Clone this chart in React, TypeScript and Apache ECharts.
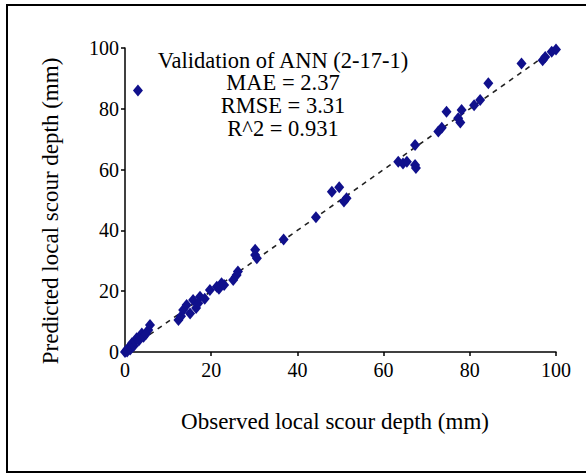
import React, { useEffect, useRef } from "react";
import * as echarts from "echarts";

const observed: number[] = [
  0, 0.3, 0.6, 0.5, 1, 1.2, 1.6, 2, 2.3, 2.7, 3.2, 3.9, 4.3, 5.4, 5.8, 4.8,
  12.4, 13, 13.5, 14.3, 15.1, 15.8, 16.5, 17.4, 17, 18.5, 19.7, 21.3, 22.4, 21.8, 23,
  25.1, 25.9, 26.2, 30.2, 30.6, 30.2, 36.8, 44.3, 48, 49.7, 51.4, 50.8,
  63.4, 64.5, 65.4, 67.3, 67.3, 67.5, 72.7, 73.5, 74.6, 77.3, 78.1, 77.8, 81, 82.4, 84.3,
  92, 96.9, 97.5, 99, 100, 3,
];
const predicted: number[] = [
  0, 0.5, 1, 0.2, 1.5, 0.8, 2.9, 2, 3.5, 4.5, 3.8, 6.1, 5, 7.2, 8.9, 5.8,
  10.5, 11.8, 13.8, 15.5, 12.7, 17.1, 14.5, 18.2, 16, 17.5, 20.4, 21.5, 22.6, 20.8, 22,
  23.7, 25.3, 26.5, 31.9, 30.8, 33.6, 37, 44.3, 52.7, 54.2, 50.6, 49.5,
  62.6, 62, 62.6, 61.5, 68.1, 60.5, 72.5, 73.8, 79, 76.9, 79.6, 75.5, 81.2, 82.9, 88.4,
  94.9, 96, 97, 98.8, 99.5, 86,
];
const refLine: number[][] = [
  [0, 0],
  [100, 100],
];
const xTitle = "Observed local scour depth (mm)";
const yTitle = "Predicted local scour depth (mm)";
const annotation: string[] = [
  "Validation of ANN (2-17-1)",
  "MAE = 2.37",
  "RMSE = 3.31",
  "R^2 = 0.931",
];

const FONT = "'Liberation Serif', 'DejaVu Serif', serif";

export default function App() {
  const ref = useRef<HTMLDivElement>(null);
  useEffect(() => {
    if (!ref.current) return;
    const chart = echarts.init(ref.current, null, { renderer: "svg" });
    const points = observed.map((x, i) => [x, predicted[i]]);
    const frame = { stroke: "#000", lineWidth: 2 };
    chart.setOption({
      animation: false,
      backgroundColor: "#ffffff",
      grid: { left: 125, right: 30, top: 48, bottom: 122 },
      xAxis: {
        type: "value",
        min: 0,
        max: 100,
        interval: 20,
        axisLine: { show: true, lineStyle: { color: "#000", width: 1.5 } },
        axisTick: { show: true, length: 4, lineStyle: { color: "#000", width: 1.5 } },
        axisLabel: { color: "#000", fontFamily: FONT, fontSize: 20, margin: 8 },
        splitLine: { show: false },
      },
      yAxis: {
        type: "value",
        min: 0,
        max: 100,
        interval: 20,
        axisLine: { show: true, lineStyle: { color: "#000", width: 1.5 } },
        axisTick: { show: true, length: 4, lineStyle: { color: "#000", width: 1.5 } },
        axisLabel: { color: "#000", fontFamily: FONT, fontSize: 20, margin: 6 },
        splitLine: { show: false },
      },
      graphic: [
        { type: "line", shape: { x1: 6, y1: 5, x2: 586, y2: 5 }, style: frame, silent: true },
        { type: "line", shape: { x1: 7, y1: 4, x2: 7, y2: 472 }, style: frame, silent: true },
        { type: "line", shape: { x1: 6, y1: 472, x2: 586, y2: 472 }, style: frame, silent: true },
        {
          type: "text",
          x: 335,
          y: 421,
          style: {
            text: xTitle,
            fontFamily: FONT,
            fontSize: 23,
            fill: "#000",
            align: "center",
            verticalAlign: "middle",
          },
        },
        {
          type: "text",
          x: 50,
          y: 211,
          rotation: Math.PI / 2,
          style: {
            text: yTitle,
            fontFamily: FONT,
            fontSize: 23,
            fill: "#000",
            align: "center",
            verticalAlign: "middle",
          },
        },
        ...annotation.map((t, i) => ({
          type: "text",
          x: 283,
          y: 60 + i * 22.7,
          style: {
            text: t,
            fontFamily: FONT,
            fontSize: 22.5,
            fill: "#000",
            align: "center",
            verticalAlign: "middle",
          },
        })),
      ],
      series: [
        {
          type: "line",
          data: refLine,
          symbol: "none",
          lineStyle: { color: "#222", width: 1.6, type: [5, 5] },
          z: 1,
        },
        {
          type: "scatter",
          data: points,
          symbol: "diamond",
          symbolSize: [10, 12],
          itemStyle: { color: "#10108c", opacity: 1 },
          z: 2,
        },
      ],
    });
    return () => chart.dispose();
  }, []);
  return (
    <div
      ref={ref}
      style={{ width: 586, height: 474, position: "absolute", left: 0, top: 0 }}
    />
  );
}
